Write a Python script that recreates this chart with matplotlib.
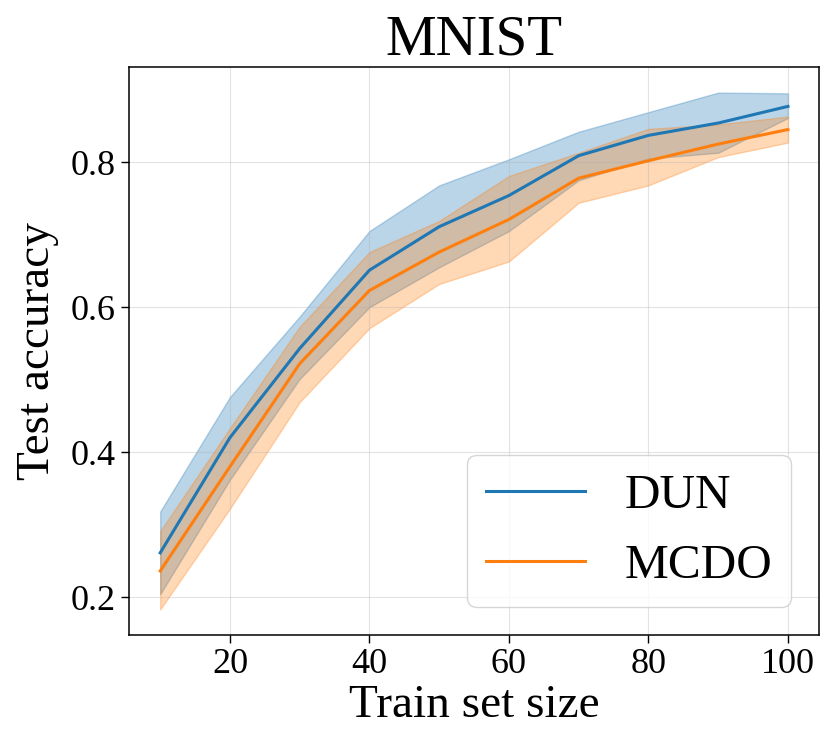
import numpy as np
import matplotlib
matplotlib.use("Agg")
import matplotlib.pyplot as plt

# ==========================================
# DATA
# ==========================================

train_sizes = [10, 20, 30, 40, 50, 60, 70, 80, 90, 100]

dun_mean = [0.261, 0.420, 0.543, 0.651, 0.711, 0.754, 0.809, 0.837, 0.854, 0.877]
dun_upper = [0.318, 0.476, 0.587, 0.705, 0.768, 0.804, 0.842, 0.869, 0.896, 0.895]
dun_lower = [0.204, 0.362, 0.501, 0.600, 0.655, 0.705, 0.775, 0.805, 0.813, 0.861]

mcdo_mean = [0.236, 0.380, 0.522, 0.623, 0.676, 0.721, 0.778, 0.802, 0.825, 0.845]
mcdo_upper = [0.291, 0.433, 0.573, 0.676, 0.719, 0.781, 0.813, 0.846, 0.852, 0.863]
mcdo_lower = [0.183, 0.322, 0.469, 0.571, 0.632, 0.663, 0.744, 0.768, 0.807, 0.827]

# ==========================================
# PLOT
# ==========================================

plt.rcParams["font.family"] = "serif"
plt.rcParams["font.serif"] = ["Liberation Serif", "DejaVu Serif"]

fig = plt.figure(figsize=(8.31, 7.5), dpi=100)
ax = fig.add_axes([0.155, 0.153, 0.831, 0.758])

ax.plot(train_sizes, dun_mean, color="C0", lw=2.2, label="DUN")
ax.fill_between(train_sizes, dun_lower, dun_upper, color="C0", alpha=0.3)

ax.plot(train_sizes, mcdo_mean, color="C1", lw=2.2, label="MCDO")
ax.fill_between(train_sizes, mcdo_lower, mcdo_upper, color="C1", alpha=0.3)

ax.grid(True, alpha=0.35)
ax.set_xticks([20, 40, 60, 80, 100])
ax.set_yticks([0.2, 0.4, 0.6, 0.8])
ax.tick_params(labelsize=26, length=6, width=1)
for s in ax.spines.values():
    s.set_linewidth(1.1)

ax.set_xlabel("Train set size", fontsize=34, labelpad=2)
ax.set_ylabel("Test accuracy", fontsize=34, labelpad=8)
ax.set_title("MNIST", fontsize=41, pad=8)

ax.legend(loc="lower right", fontsize=35.5, borderpad=0.38,
          handlelength=2.0, labelspacing=0.52, borderaxespad=0.58)

plt.savefig("out.png", dpi=100)
